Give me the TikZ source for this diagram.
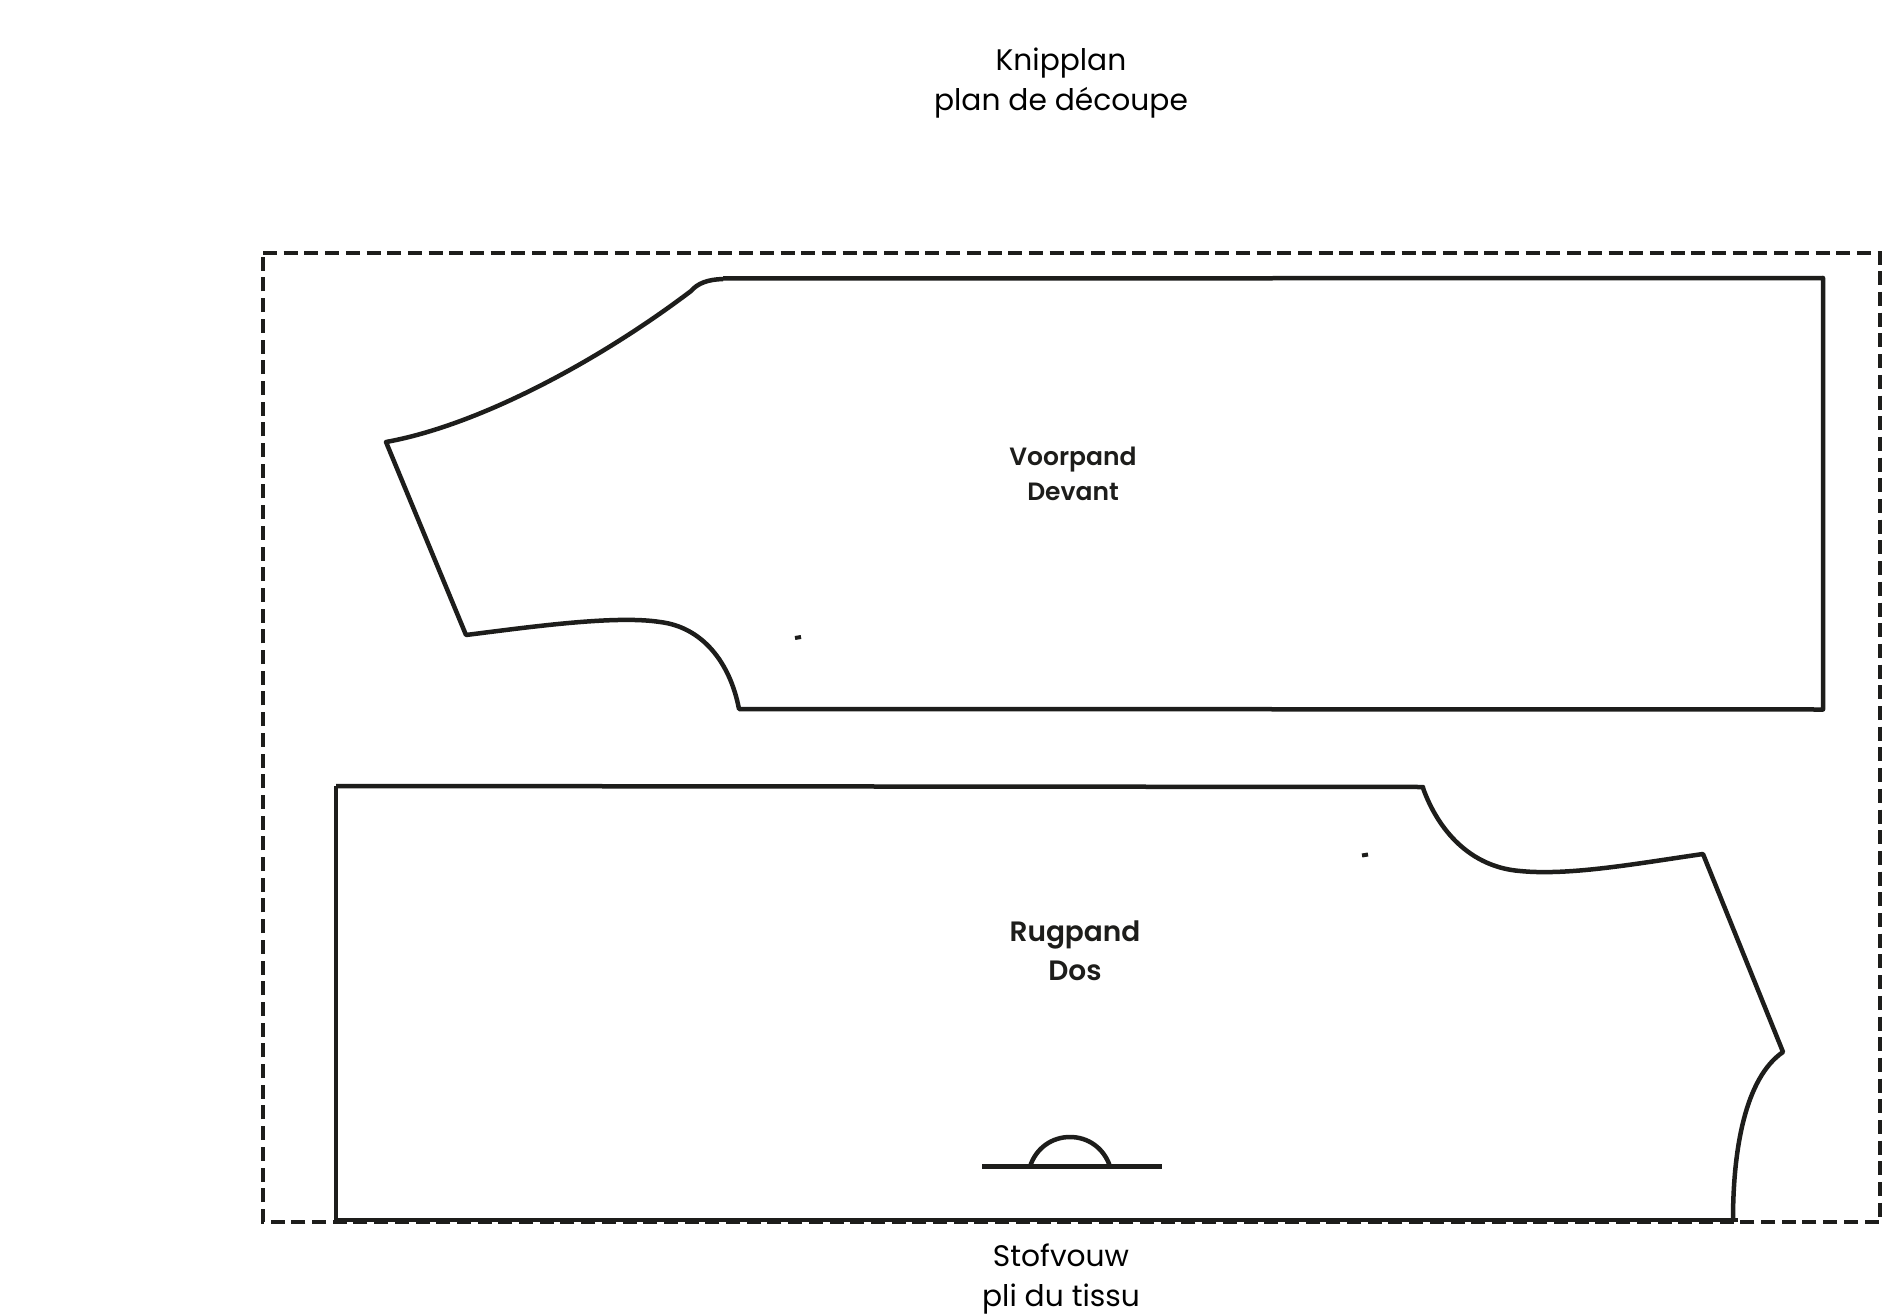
\documentclass[tikz,border=0pt]{standalone}
\usepackage{fontspec}
\setmainfont{Poppins}
\newfontfamily\semifont{Poppins SemiBold}
\definecolor{ink}{HTML}{1D1D1B}
\tikzset{
  cutline/.style={draw=ink,line width=4.5pt,line join=round,line cap=butt},
  foldbox/.style={draw=ink,line width=4.6pt,dash pattern=on 14pt off 6.7pt},
  plain/.style={align=center,text=black,font=\fontsize{29.7}{40}\selectfont},
  piece/.style={align=center,text=ink,font=\fontsize{25}{35}\selectfont\semifont},
  bigpiece/.style={align=center,text=ink,font=\fontsize{28}{38.5}\selectfont\semifont}
}
\begin{document}
\begin{tikzpicture}[x=1pt,y=-1pt]
\useasboundingbox (0,0) rectangle (1883,1316);
\fill[white] (0,0) rectangle (1883,1316);
\draw[foldbox] (263,253) -- (1880,253) -- (1880,1222) -- (263,1222) -- cycle;
% front
\draw[cutline] (723,278.5) -- (1823,278) -- (1823,709.5) -- (739,709)
  .. controls (730,662) and (702,627) .. (660,622)
  .. controls (615,615) and (530,627) .. (466,635)
  -- (386,442)
  .. controls (480,425) and (600,360) .. (691,291)
  .. controls (698,283) and (708,279.5) .. (723,279);
% back
\draw[cutline] (336,786) -- (336,1220) -- (1738,1220);
\draw[cutline] (1733,1220)
  .. controls (1733,1150) and (1745,1078) .. (1783,1052)
  -- (1703,854)
  .. controls (1640,863) and (1570,876) .. (1520,871)
  .. controls (1470,867) and (1438,830) .. (1423,788)
  -- (1423,787) -- (336,786);
% fold mark
\draw[cutline] (982,1166.5) -- (1162,1166.5);
\draw[cutline] (1030,1166.5) .. controls (1036,1148) and (1052,1137) .. (1070,1137)
  .. controls (1088,1137) and (1104,1148) .. (1110,1166.5);
% ticks
\draw[draw=ink,line width=4pt] (795,638) -- (801,637);
\draw[draw=ink,line width=4pt] (1362,855.5) -- (1368,854.5);
% text
\node[plain] (title) at (1061,83.5) {Knipplan\\plan de découpe};
\node[piece] (front) at (1073,474) {Voorpand\\Devant};
\node[bigpiece] (back) at (1075,951) {Rugpand\\Dos};
\node[plain] (fold) at (1061,1279.5) {Stofvouw\\pli du tissu};
\end{tikzpicture}
\end{document}
